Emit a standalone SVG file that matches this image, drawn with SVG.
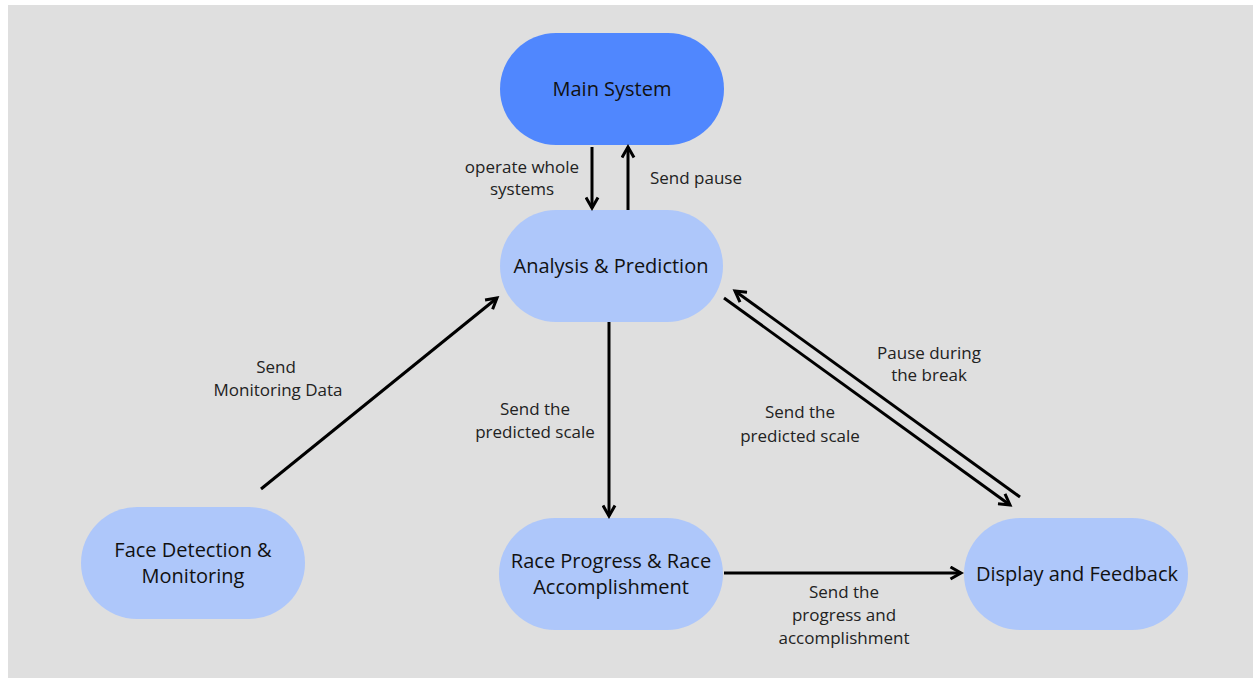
<svg xmlns="http://www.w3.org/2000/svg" width="1253" height="678" viewBox="0 0 1253 678">
  <defs>
    <marker id="arrow" viewBox="0 0 10 10" refX="8" refY="5" markerWidth="5" markerHeight="5" orient="auto-start-reverse" markerUnits="strokeWidth">
      <path d="M1,1 L8,5 L1,9" fill="none" stroke="#000" stroke-width="2"/>
    </marker>
    <style>
      .node-main { fill: #5087fe; }
      .node { fill: #aec7fa; }
      .ntext { font-family: "Open Sans", "Liberation Sans", sans-serif; font-size: 20px; fill: #111; text-anchor: middle; }
      .ltext { font-family: "Open Sans", "Liberation Sans", sans-serif; font-size: 17px; fill: #222; text-anchor: middle; }
      .edge { stroke: #000; stroke-width: 3; fill: none; marker-end: url(#arrow); }
    </style>
  </defs>

  <rect x="0" y="0" width="1253" height="678" fill="#ffffff"/>
  <rect x="8" y="5" width="1245" height="673" fill="#dfdfdf"/>

  <g id="main-system">
    <rect class="node-main" x="500" y="33" width="224" height="112" rx="56"/>
    <text class="ntext" x="612" y="96">Main System</text>
  </g>
  <g id="analysis-prediction">
    <rect class="node" x="500" y="210" width="223" height="112" rx="56"/>
    <text class="ntext" x="611" y="273">Analysis &amp; Prediction</text>
  </g>
  <g id="face-detection">
    <rect class="node" x="81" y="507" width="224" height="112" rx="56"/>
    <text class="ntext" x="193" y="557">Face Detection &amp;</text>
    <text class="ntext" x="193" y="583">Monitoring</text>
  </g>
  <g id="race-progress">
    <rect class="node" x="499" y="518" width="224" height="112" rx="56"/>
    <text class="ntext" x="611" y="568">Race Progress &amp; Race</text>
    <text class="ntext" x="611" y="594">Accomplishment</text>
  </g>
  <g id="display-feedback">
    <rect class="node" x="964" y="518" width="224" height="112" rx="56"/>
    <text class="ntext" x="1077" y="581">Display and Feedback</text>
  </g>

  <g id="connectors">
    <line class="edge" x1="592" y1="147" x2="592" y2="208"/>
    <line class="edge" x1="628" y1="210" x2="628" y2="147"/>
    <line class="edge" x1="261" y1="489" x2="497" y2="298"/>
    <line class="edge" x1="609" y1="322" x2="609" y2="516"/>
    <line class="edge" x1="724" y1="573" x2="961" y2="573"/>
    <line class="edge" x1="724" y1="298" x2="1010" y2="505"/>
    <line class="edge" x1="1020" y1="497" x2="735" y2="291"/>
  </g>

  <g id="labels">
    <text class="ltext" x="522" y="173">operate whole</text>
    <text class="ltext" x="522" y="195">systems</text>
    <text class="ltext" x="696" y="184">Send pause</text>
    <text class="ltext" x="276" y="373">Send</text>
    <text class="ltext" x="278" y="396">Monitoring Data</text>
    <text class="ltext" x="535" y="415">Send the</text>
    <text class="ltext" x="535" y="438">predicted scale</text>
    <text class="ltext" x="929" y="359">Pause during</text>
    <text class="ltext" x="929" y="381">the break</text>
    <text class="ltext" x="800" y="418">Send the</text>
    <text class="ltext" x="800" y="442">predicted scale</text>
    <text class="ltext" x="844" y="598">Send the</text>
    <text class="ltext" x="844" y="621">progress and</text>
    <text class="ltext" x="844" y="644">accomplishment</text>
  </g>
</svg>
